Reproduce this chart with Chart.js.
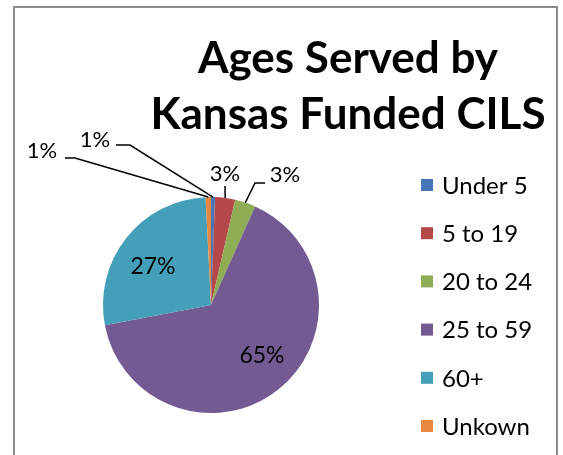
<!DOCTYPE html>
<html>
<head>
<meta charset="utf-8">
<title>Ages Served by Kansas Funded CILS</title>
<script src="https://cdn.jsdelivr.net/npm/chart.js@4/dist/chart.umd.min.js"></script>
<style>
    html, body { margin: 0; padding: 0; background: #fff; }
    canvas { display: block; }
</style>
</head>
<body>
<canvas id="ages-chart" width="563" height="455"></canvas>
<script>
/* Ages served pie — values in percent */
var titleLines = ["Ages Served by", "Kansas Funded CILS"];
var ageGroups = ["Under 5", "5 to 19", "20 to 24", "25 to 59", "60+", "Unkown"];
var agePercents = [0.6, 3.0, 3.1, 65.3, 27.2, 0.8];
var sliceColors = ["#4677b8", "#b5494a", "#8fad55", "#745a92", "#44a0b8", "#e8873f"];

var FONT = "Lato, 'Open Sans', sans-serif";

/* where each label sits; small slices get a leader line with an elbow */
var labelSpots = {
    0: { x: 95, y: 140, line: [[116, 145], [130, 145]] },
    1: { x: 225, y: 174, line: [[225, 186]] },
    2: { x: 285, y: 175, line: [[265, 183], [255, 183]] },
    3: { x: 262, y: 356 },
    4: { x: 153, y: 267 },
    5: { x: 42, y: 151, line: [[65, 158], [75, 158]] }
};

var decorPlugin = {
    id: "decor",
    afterDraw: function (chart) {
        var ctx = chart.ctx;
        ctx.save();

        /* outer frame */
        ctx.strokeStyle = "#8c8c8c";
        ctx.lineWidth = 2;
        ctx.beginPath();
        ctx.moveTo(14, 460);
        ctx.lineTo(14, 7);
        ctx.lineTo(557, 7);
        ctx.lineTo(557, 460);
        ctx.stroke();

        /* title */
        ctx.fillStyle = "#000";
        ctx.textAlign = "center";
        ctx.textBaseline = "middle";
        ctx.font = "bold 44px " + FONT;
        ctx.fillText(titleLines[0], 348, 59);
        ctx.fillText(titleLines[1], 348, 115);

        /* legend */
        ctx.textAlign = "left";
        ctx.font = "24px " + FONT;
        ageGroups.forEach(function (name, i) {
            var y = 185 + i * 48.2;
            ctx.fillStyle = sliceColors[i];
            ctx.fillRect(421, y - 6, 12, 12);
            ctx.fillStyle = "#000";
            ctx.fillText(name, 442, y + 1);
        });

        /* data labels */
        var arcs = chart.getDatasetMeta(0).data;
        ctx.textAlign = "center";
        arcs.forEach(function (arc, i) {
            var p = arc.getProps(["x", "y", "startAngle", "endAngle", "outerRadius"], true);
            var mid = (p.startAngle + p.endAngle) / 2;
            var txt = Math.round(agePercents[i]) + "%";
            var spot = labelSpots[i];
            if (spot.line) {
                var ex = p.x + Math.cos(mid) * p.outerRadius;
                var ey = p.y + Math.sin(mid) * p.outerRadius;
                ctx.strokeStyle = "#000";
                ctx.lineWidth = 1.5;
                ctx.beginPath();
                spot.line.forEach(function (pt, k) {
                    if (k === 0) ctx.moveTo(pt[0], pt[1]);
                    else ctx.lineTo(pt[0], pt[1]);
                });
                ctx.lineTo(ex, ey);
                ctx.stroke();
                ctx.font = "22px " + FONT;
            } else {
                ctx.font = "23px " + FONT;
            }
            ctx.fillStyle = "#000";
            ctx.fillText(txt, spot.x, spot.y);
        });

        ctx.restore();
    }
};

new Chart(document.getElementById("ages-chart"), {
    type: "pie",
    data: {
        labels: ageGroups,
        datasets: [{
            data: agePercents,
            backgroundColor: sliceColors,
            borderWidth: 0
        }]
    },
    options: {
        responsive: false,
        animation: false,
        layout: { padding: { left: 103, right: 244, top: 197, bottom: 42 } },
        plugins: {
            legend: { display: false },
            title: { display: false },
            tooltip: { enabled: false }
        }
    },
    plugins: [decorPlugin]
});
</script>
</body>
</html>
